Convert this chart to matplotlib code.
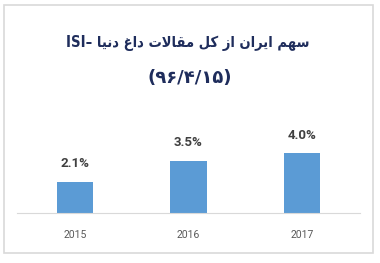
import matplotlib
matplotlib.use("Agg")
import matplotlib.pyplot as plt
from matplotlib.patches import Rectangle

years = ["2015", "2016", "2017"]
share = [2.1, 3.5, 4.0]
value_labels = ["2.1%", "3.5%", "4.0%"]
title_words = ["سهم", "ایران", "از", "کل", "مقالات", "داغ", "دنیا", "ISI–"]
title_line2 = "(۹۶/۴/۱۵)"

# presentation forms: isolated, final, initial, medial (None = right-joining only)
FORMS = {
    "س": ("\uFEB1", "\uFEB2", "\uFEB3", "\uFEB4"),
    "ه": ("\uFEE9", "\uFEEA", "\uFEEB", "\uFEEC"),
    "م": ("\uFEE1", "\uFEE2", "\uFEE3", "\uFEE4"),
    "ی": ("\uFBFC", "\uFBFD", "\uFBFE", "\uFBFF"),
    "ن": ("\uFEE5", "\uFEE6", "\uFEE7", "\uFEE8"),
    "ک": ("\uFB8E", "\uFB8F", "\uFB90", "\uFB91"),
    "ل": ("\uFEDD", "\uFEDE", "\uFEDF", "\uFEE0"),
    "ق": ("\uFED5", "\uFED6", "\uFED7", "\uFED8"),
    "ت": ("\uFE95", "\uFE96", "\uFE97", "\uFE98"),
    "غ": ("\uFECD", "\uFECE", "\uFECF", "\uFED0"),
    "ا": ("\uFE8D", "\uFE8E", None, None),
    "ر": ("\uFEAD", "\uFEAE", None, None),
    "ز": ("\uFEAF", "\uFEB0", None, None),
    "د": ("\uFEA9", "\uFEAA", None, None),
}


def shape_word(word):
    # lam-alef ligature handled as a right-joining letter
    letters = []
    i = 0
    while i < len(word):
        if word[i] == "ل" and i + 1 < len(word) and word[i + 1] == "ا":
            letters.append("لا")
            i += 2
        else:
            letters.append(word[i])
            i += 1
    out = []
    for k, ch in enumerate(letters):
        prev = letters[k - 1] if k > 0 else None
        nxt = letters[k + 1] if k + 1 < len(letters) else None
        joins_prev = prev is not None and prev in FORMS and FORMS[prev][2] is not None
        if ch == "لا":
            out.append("\uFEFC" if joins_prev else "\uFEFB")
            continue
        if ch not in FORMS:
            out.append(ch)
            continue
        f = FORMS[ch]
        joins_next = nxt is not None and f[2] is not None and (nxt in FORMS or nxt == "لا")
        if joins_prev and joins_next:
            out.append(f[3])
        elif joins_prev:
            out.append(f[1])
        elif joins_next:
            out.append(f[2])
        else:
            out.append(f[0])
    return "".join(out)[::-1]


def visual_rtl(words):
    shaped = [shape_word(w) if any(c in FORMS for c in w) else w for w in words]
    return " ".join(shaped[::-1])


fig = plt.figure(figsize=(3.8, 2.63), dpi=100)
fig.patches.append(Rectangle((4 / 380, 10 / 263), 369 / 380, 248 / 263,
                             transform=fig.transFigure, fill=False,
                             edgecolor="#d9d9d9", linewidth=1.2))

ax = fig.add_axes([17 / 380, 50 / 263, 343 / 380, 112.5 / 263])
x = range(len(years))
ax.bar(x, share, width=0.32, color="#5b9bd5")
ax.set_xlim(-0.51, 2.51)
ax.set_ylim(0, 7.5)
for xi, v, lab in zip(x, share, value_labels):
    ax.text(xi, v + 0.75, lab, ha="center", va="bottom", fontsize=9.5,
            fontweight="bold", color="#404040", family="Roboto")
ax.set_xticks(list(x))
ax.set_xticklabels(years, fontsize=7.5, color="#595959", family="Roboto")
ax.tick_params(axis="x", length=0, pad=12.5)
ax.set_yticks([])
for side in ["top", "left", "right"]:
    ax.spines[side].set_visible(False)
ax.spines["bottom"].set_color("#d9d9d9")

fig.text(188 / 380, 1 - 43 / 263, visual_rtl(title_words), ha="center", va="center",
         fontsize=10.5, fontweight="bold", fontstretch="condensed",
         color="#1f2d5c", family="DejaVu Sans")
fig.text(0.5, 1 - 78 / 263, title_line2, ha="center", va="center",
         fontsize=13, fontweight="bold", color="#1f2d5c", family="DejaVu Sans")

fig.savefig("out.png", dpi=100)
